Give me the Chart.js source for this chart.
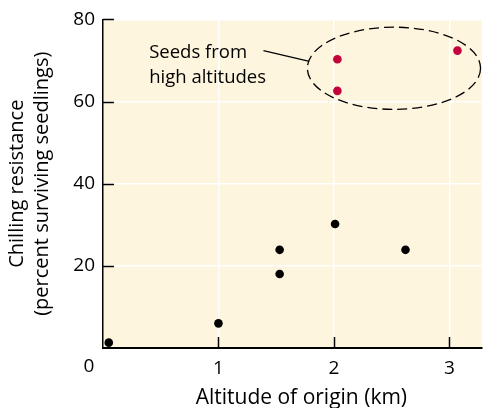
<!DOCTYPE html>
<html>
<head>
<meta charset="utf-8">
<script src="https://cdn.jsdelivr.net/npm/chart.js@4.4.1/dist/chart.umd.min.js"></script>
<style>
  html, body { margin: 0; padding: 0; background: #fff; }
  #wrap { width: 486px; height: 408px; }
</style>
</head>
<body>
<div id="wrap"><canvas id="chart"></canvas></div>
<script>
// data
const lowAltitudeX = [0.05, 1.0, 1.53, 1.53, 2.01, 2.62];
const lowAltitudeY = [1.3, 6, 23.9, 18.0, 30.2, 23.9];
const highAltitudeX = [2.03, 2.03, 3.07];
const highAltitudeY = [70.3, 62.6, 72.4];

const xTicks = [1, 2, 3];
const yTicks = [20, 40, 60, 80];

// dashed ring round the high altitude seeds (centre and radii in axis units)
const ringCenter = [2.52, 68.1];
const ringRadius = [0.75, 10];

const noteLines = ["Seeds from", "high altitudes"];
const xTitle = "Altitude of origin (km)";
const yTitle = ["Chilling resistance", "(percent surviving seedlings)"];

const FONT = "'Open Sans', sans-serif";
const CREAM = "#fdf5dd";
const RED = "#c4003d";

function toPoints(xs, ys) {
    return xs.map((x, i) => ({ x: x, y: ys[i] }));
}

// cream plot area, inward ticks, shared origin label, x title, the ring and the note
const decorPlugin = {
    id: "decor",
    beforeDraw(chart) {
        const a = chart.chartArea;
        const ctx = chart.ctx;
        ctx.save();
        ctx.fillStyle = CREAM;
        ctx.fillRect(a.left, a.top, a.right - a.left, a.bottom - a.top);
        ctx.restore();
    },
    afterDraw(chart) {
        const ctx = chart.ctx;
        const xs = chart.scales.x, ys = chart.scales.y;
        const a = chart.chartArea;
        ctx.save();

        // tick marks point into the plot
        ctx.strokeStyle = "#000";
        ctx.lineWidth = 1.5;
        xTicks.forEach(v => {
            const px = Math.round(xs.getPixelForValue(v)) + 0.5;
            ctx.beginPath();
            ctx.moveTo(px, a.bottom);
            ctx.lineTo(px, a.bottom - 11);
            ctx.stroke();
        });
        yTicks.forEach(v => {
            const py = Math.round(ys.getPixelForValue(v)) + 0.5;
            ctx.beginPath();
            ctx.moveTo(a.left, py);
            ctx.lineTo(a.left + 11, py);
            ctx.stroke();
        });

        // one "0" for both axes, down in the corner
        ctx.fillStyle = "#000";
        ctx.font = "19px " + FONT;
        ctx.textAlign = "center";
        ctx.textBaseline = "middle";
        ctx.fillText("0", xs.getPixelForValue(0) - 14, a.bottom + 19);

        // x axis title, sits a little right of the plot centre
        ctx.font = "21px " + FONT;
        ctx.textBaseline = "alphabetic";
        ctx.fillText(xTitle, (a.left + a.right) / 2 + 9, a.bottom + 56);

        // dashed ellipse
        const cx = xs.getPixelForValue(ringCenter[0]);
        const cy = ys.getPixelForValue(ringCenter[1]);
        const rx = Math.abs(xs.getPixelForValue(ringCenter[0] + ringRadius[0]) - cx);
        const ry = Math.abs(ys.getPixelForValue(ringCenter[1] + ringRadius[1]) - cy);
        ctx.lineWidth = 1.3;
        ctx.setLineDash([10, 5]);
        ctx.beginPath();
        ctx.ellipse(cx, cy, rx, ry, 0, 0, Math.PI * 2);
        ctx.stroke();
        ctx.setLineDash([]);

        // note and leader line
        ctx.font = "18.5px " + FONT;
        ctx.textAlign = "left";
        const tx = xs.getPixelForValue(0.4);
        const ty = ys.getPixelForValue(70.6);
        noteLines.forEach((t, i) => ctx.fillText(t, tx, ty + i * 25));
        ctx.lineWidth = 1.2;
        ctx.beginPath();
        ctx.moveTo(xs.getPixelForValue(1.39), ys.getPixelForValue(72.4));
        ctx.lineTo(cx - rx + 2, ys.getPixelForValue(69.8));
        ctx.stroke();

        ctx.restore();
    }
};

new Chart(document.getElementById("chart"), {
    type: "scatter",
    data: {
        datasets: [
            {
                label: "Low altitudes",
                data: toPoints(lowAltitudeX, lowAltitudeY),
                backgroundColor: "#000",
                borderWidth: 0,
                pointRadius: 4.3
            },
            {
                label: "High altitudes",
                data: toPoints(highAltitudeX, highAltitudeY),
                backgroundColor: RED,
                borderWidth: 0,
                pointRadius: 4.3
            }
        ]
    },
    options: {
        responsive: true,
        maintainAspectRatio: false,
        animation: false,
        layout: { padding: { top: 17, right: 0, left: 0, bottom: 0 } },
        plugins: {
            legend: { display: false },
            tooltip: { enabled: false }
        },
        scales: {
            x: {
                type: "linear",
                min: 0,
                max: 3.28,
                afterBuildTicks(scale) { scale.ticks = xTicks.map(v => ({ value: v })); },
                afterFit(scale) { scale.height = 60; },
                grid: { color: "#fff", lineWidth: 1.5, drawTicks: false },
                border: { display: true, color: "#000", width: 2 },
                ticks: { color: "#000", padding: 9, font: { family: FONT, size: 19 } },
                title: { display: false }
            },
            y: {
                type: "linear",
                min: 0,
                max: 80,
                afterBuildTicks(scale) { scale.ticks = yTicks.map(v => ({ value: v })); },
                afterFit(scale) { scale.width = 103; },
                grid: { color: "#fff", lineWidth: 1.5, drawTicks: false },
                border: { display: true, color: "#000", width: 1.5 },
                ticks: { color: "#000", padding: 8, font: { family: FONT, size: 19 } },
                title: {
                    display: true,
                    text: yTitle,
                    color: "#000",
                    font: { family: FONT, size: 20, lineHeight: 1.25 },
                    padding: { top: 5, bottom: 0 }
                }
            }
        }
    },
    plugins: [decorPlugin]
});
</script>
</body>
</html>
